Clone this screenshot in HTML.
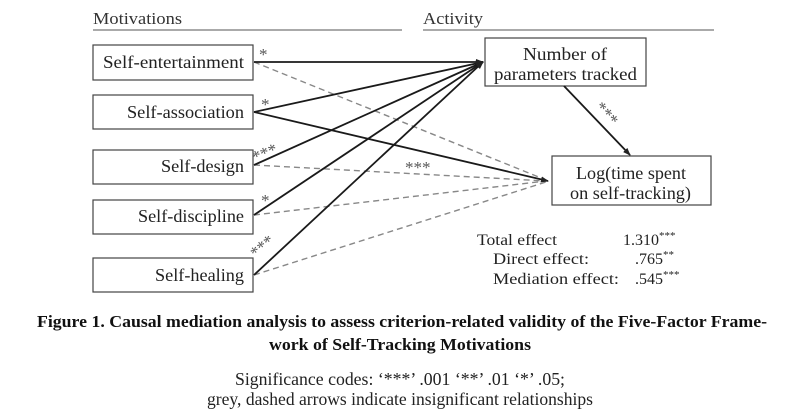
<!DOCTYPE html>
<html><head><style>
body{margin:0;background:#fff;width:800px;height:415px;overflow:hidden;font-family:"Liberation Serif",serif;}
</style></head><body>
<svg width="800" height="415" xmlns="http://www.w3.org/2000/svg" font-family="Liberation Serif, serif">
<defs><marker id="a" markerWidth="8" markerHeight="8" refX="7" refY="4" orient="auto" markerUnits="userSpaceOnUse"><path d="M0,1 L8,4 L0,7 z" fill="#222"/></marker></defs>
<text x="93" y="24" font-size="17" fill="#333" textLength="89" lengthAdjust="spacingAndGlyphs">Motivations</text>
<line x1="93" y1="30" x2="402" y2="30" stroke="#777" stroke-width="1.2"/>
<text x="423" y="24" font-size="17" fill="#333" textLength="60" lengthAdjust="spacingAndGlyphs">Activity</text>
<line x1="423" y1="30" x2="714" y2="30" stroke="#777" stroke-width="1.2"/>
<g fill="#fff" stroke="#444" stroke-width="1.2">
<rect x="93" y="45" width="160" height="35"/><rect x="93" y="95" width="160" height="34"/>
<rect x="93" y="150" width="160" height="34"/><rect x="93" y="200" width="160" height="34"/>
<rect x="93" y="258" width="160" height="34"/>
<rect x="485" y="38" width="161" height="48"/><rect x="552" y="156" width="159" height="49"/>
</g>
<g font-size="18" fill="#222">
<text x="103" y="68" textLength="141" lengthAdjust="spacingAndGlyphs">Self-entertainment</text>
<text x="127" y="118" textLength="117" lengthAdjust="spacingAndGlyphs">Self-association</text>
<text x="161" y="172" textLength="83" lengthAdjust="spacingAndGlyphs">Self-design</text>
<text x="138" y="222" textLength="106" lengthAdjust="spacingAndGlyphs">Self-discipline</text>
<text x="155" y="281" textLength="89" lengthAdjust="spacingAndGlyphs">Self-healing</text>
<text x="523" y="60" textLength="84" lengthAdjust="spacingAndGlyphs">Number of</text>
<text x="494" y="80" textLength="143" lengthAdjust="spacingAndGlyphs">parameters tracked</text>
<text x="576" y="179" textLength="110" lengthAdjust="spacingAndGlyphs">Log(time spent</text>
<text x="570" y="199" textLength="121" lengthAdjust="spacingAndGlyphs">on self-tracking)</text>
</g>
<g stroke="#888" stroke-width="1.4" stroke-dasharray="6,4" fill="none">
<line x1="254" y1="62" x2="546" y2="180"/><line x1="254" y1="165" x2="546" y2="181"/>
<line x1="254" y1="215" x2="546" y2="181"/><line x1="254" y1="275" x2="546" y2="182"/>
</g>
<g stroke="#1a1a1a" stroke-width="1.8" fill="none" marker-end="url(#a)">
<line x1="254" y1="62" x2="483" y2="62"/><line x1="254" y1="112" x2="483" y2="62"/>
<line x1="254" y1="165" x2="483" y2="62"/><line x1="254" y1="215" x2="483" y2="62"/>
<line x1="254" y1="275" x2="483" y2="62"/><line x1="254" y1="112" x2="548" y2="181"/>
<line x1="564" y1="86" x2="630" y2="155"/>
</g>
<g font-size="17" fill="#555">
<text x="259" y="60">*</text><text x="261" y="110">*</text>
<text x="255" y="163" transform="rotate(-22 255 163)">***</text>
<text x="261" y="206">*</text>
<text x="256" y="259" transform="rotate(-40 256 259)">***</text>
<text x="405" y="173">***</text>
<text x="594" y="108" transform="rotate(48 594 108)">***</text>
</g>
<g font-size="16" fill="#222">
<text x="477" y="245" textLength="80" lengthAdjust="spacingAndGlyphs">Total effect</text>
<text x="623" y="245">1.310<tspan font-size="11" dy="-6">***</tspan></text>
<text x="493" y="264" textLength="96" lengthAdjust="spacingAndGlyphs">Direct effect:</text>
<text x="635" y="264">.765<tspan font-size="11" dy="-6">**</tspan></text>
<text x="493" y="284" textLength="126" lengthAdjust="spacingAndGlyphs">Mediation effect:</text>
<text x="635" y="284">.545<tspan font-size="11" dy="-6">***</tspan></text>
</g>
<g font-size="17" font-weight="bold" fill="#111">
<text x="37" y="327" textLength="730" lengthAdjust="spacingAndGlyphs">Figure 1. Causal mediation analysis to assess criterion-related validity of the Five-Factor Frame-</text>
<text x="269" y="350" textLength="262" lengthAdjust="spacingAndGlyphs">work of Self-Tracking Motivations</text></g>
<g font-size="18" fill="#222">
<text x="235" y="385" textLength="330" lengthAdjust="spacingAndGlyphs">Significance codes: ‘***’ .001 ‘**’ .01 ‘*’ .05;</text>
<text x="207" y="405" textLength="386" lengthAdjust="spacingAndGlyphs">grey, dashed arrows indicate insignificant relationships</text></g>
</svg>
</body></html>
